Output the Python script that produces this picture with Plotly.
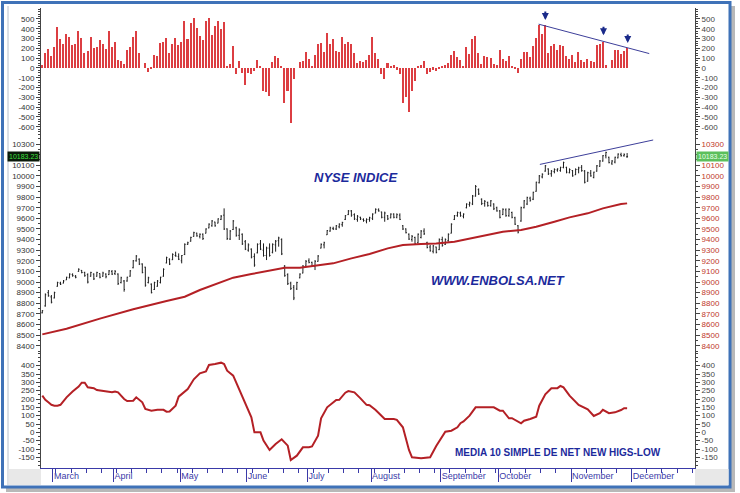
import plotly.graph_objects as go

# ---------------- data (trading days from 25 Feb 2013) ----------------
day_index = list(range(194))

net_new_highs_lows = [
    30, 150, 190, 120, 210, 420, 300, 240, 350, 320, 230, 240, 375, 310, 150, 175, 320, 200, 215, 290,
    245, 195, 375, 215, 260, 80, 75, 40, 180, 210, 315, 380, 155, 0, 50, -40, -10, 130, 120, 250,
    265, 305, 150, 245, 310, 235, 265, 475, 300, 460, 515, 410, 325, 290, 480, 510, 335, 425, 475, 395,
    470, 10, 40, 220, -60, 75, -50, -170, -50, -60, -30, 80, 20, -230, -250, -285, 60, 120, 100, 20,
    -360, -240, -560, -110, 0, 60, 70, 160, 90, 20, 130, 240, 250, 160, 360, 240, 300, 170, 160, 320,
    240, 260, 240, 150, 50, 70, 60, 80, 130, 320, 155, 95, -60, -115, 50, 20, 35, -20, -60, -360,
    -300, -450, -240, -130, 10, 30, 70, -60, -40, -20, -30, -10, 20, 30, 50, 130, 170, 110, 80, 20,
    210, 140, 300, 330, 150, 40, 120, 110, 100, 40, 30, 180, 90, 70, 120, 10, -10, -50, 90, 160,
    160, 110, 220, 310, 440, 350, 440, 150, 220, 240, 180, 230, 220, 120, 90, 130, 60, 160, 80, 60,
    90, 70, 60, 230, 240, 270, 30, 0, 80, 180, 180, 140, 170, 200,
]

nyse_high = [
    8736, 8893, 8925, 8878, 8909, 9003, 9003, 9019, 9050, 9082, 9082, 9066, 9129, 9113, 9097, 9082, 9097, 9082, 9097, 9082,
    9097, 9082, 9113, 9113, 9113, 9082, 9050, 9019, 9050, 9113, 9207, 9254, 9223, 9176, 9144, 9050, 8987, 9003, 9019, 9050,
    9129, 9239, 9223, 9270, 9286, 9270, 9254, 9364, 9380, 9427, 9474, 9465, 9458, 9458, 9506, 9553, 9584, 9568, 9600, 9631,
    9694, 9506, 9490, 9584, 9521, 9506, 9458, 9396, 9364, 9317, 9270, 9364, 9396, 9364, 9333, 9364, 9364, 9396, 9427, 9411,
    9160, 9082, 9003, 8972, 9003, 9082, 9160, 9207, 9223, 9192, 9207, 9254, 9364, 9380, 9490, 9521, 9521, 9537, 9553, 9568,
    9631, 9678, 9678, 9647, 9631, 9615, 9600, 9600, 9615, 9647, 9694, 9694, 9663, 9663, 9631, 9647, 9647, 9647, 9647, 9537,
    9506, 9458, 9443, 9427, 9458, 9490, 9506, 9380, 9349, 9349, 9333, 9411, 9427, 9411, 9458, 9553, 9631, 9663, 9663, 9647,
    9741, 9757, 9820, 9914, 9882, 9788, 9772, 9757, 9772, 9741, 9710, 9678, 9694, 9694, 9694, 9663, 9615, 9537, 9710, 9772,
    9804, 9804, 9851, 9945, 10008, 10024, 10102, 10071, 10055, 10071, 10071, 10086, 10134, 10086, 10071, 10055, 10071, 10086, 10102, 10055,
    10039, 10055, 10039, 10102, 10149, 10196, 10228, 10181, 10149, 10181, 10212, 10218, 10212, 10215,
]
nyse_low = [
    8705, 8768, 8862, 8799, 8846, 8956, 8972, 8987, 9019, 9035, 9050, 9035, 9097, 9082, 9050, 8987, 9050, 9019, 9050, 9035,
    9050, 9035, 9066, 9066, 9066, 8972, 8987, 8909, 9003, 9050, 9129, 9192, 9160, 9082, 8956, 8987, 8893, 8925, 8956, 8987,
    9050, 9176, 9160, 9207, 9239, 9207, 9176, 9254, 9349, 9380, 9427, 9427, 9411, 9396, 9458, 9506, 9521, 9521, 9553, 9584,
    9490, 9396, 9396, 9490, 9427, 9396, 9349, 9301, 9286, 9223, 9144, 9270, 9301, 9239, 9207, 9239, 9270, 9286, 9333, 9254,
    9050, 8972, 8925, 8830, 8925, 9035, 9082, 9144, 9176, 9144, 9113, 9192, 9317, 9317, 9443, 9474, 9490, 9490, 9506, 9521,
    9584, 9631, 9615, 9584, 9568, 9584, 9568, 9553, 9568, 9584, 9647, 9663, 9600, 9568, 9584, 9600, 9600, 9600, 9584, 9490,
    9458, 9396, 9380, 9349, 9364, 9411, 9443, 9317, 9286, 9270, 9270, 9301, 9333, 9349, 9380, 9458, 9584, 9615, 9615, 9600,
    9694, 9710, 9725, 9804, 9820, 9725, 9710, 9710, 9710, 9678, 9663, 9600, 9631, 9615, 9615, 9600, 9537, 9458, 9568, 9694,
    9725, 9757, 9772, 9851, 9929, 9977, 10039, 10008, 9992, 10024, 10039, 10039, 10071, 10024, 10024, 9992, 10008, 10024, 10039, 9929,
    9945, 9992, 9977, 10039, 10086, 10134, 10165, 10118, 10102, 10118, 10165, 10181, 10181, 10170,
]
nyse_open = [
    8710, 8775, 8900, 8860, 8850, 8960, 8990, 8990, 9020, 9040, 9070, 9055, 9100, 9110, 9090, 9070, 9055, 9075, 9055, 9080,
    9055, 9075, 9070, 9100, 9080, 9075, 8995, 9010, 9010, 9055, 9135, 9200, 9215, 9170, 9140, 8995, 8980, 8930, 8960, 8995,
    9055, 9180, 9215, 9210, 9250, 9240, 9200, 9260, 9355, 9385, 9430, 9460, 9430, 9450, 9460, 9510, 9530, 9565, 9555, 9590,
    9630, 9500, 9405, 9495, 9510, 9440, 9450, 9380, 9300, 9310, 9240, 9275, 9360, 9300, 9250, 9320, 9280, 9350, 9390, 9400,
    9150, 9070, 8990, 8950, 8935, 9040, 9085, 9150, 9200, 9185, 9150, 9195, 9320, 9350, 9445, 9480, 9505, 9500, 9520, 9540,
    9590, 9635, 9670, 9635, 9590, 9610, 9590, 9575, 9590, 9600, 9650, 9680, 9660, 9610, 9625, 9605, 9640, 9610, 9630, 9530,
    9500, 9450, 9400, 9420, 9370, 9420, 9480, 9370, 9330, 9290, 9330, 9305, 9400, 9355, 9390, 9460, 9590, 9625, 9650, 9620,
    9700, 9730, 9735, 9810, 9870, 9780, 9740, 9750, 9720, 9735, 9700, 9670, 9635, 9680, 9625, 9655, 9605, 9530, 9575, 9700,
    9735, 9790, 9780, 9855, 9935, 9990, 10045, 10065, 10020, 10040, 10055, 10050, 10080, 10080, 10030, 10050, 10010, 10060, 10080, 10045,
    9950, 10025, 9985, 10045, 10090, 10140, 10190, 10175, 10120, 10130, 10170, 10200, 10190, 10180,
]
nyse_close = [
    8730, 8880, 8870, 8810, 8900, 8995, 8980, 9010, 9045, 9075, 9060, 9045, 9120, 9090, 9060, 9000, 9090, 9030, 9090, 9045,
    9085, 9050, 9105, 9075, 9100, 8985, 9040, 8930, 9045, 9105, 9200, 9245, 9170, 9090, 8970, 9040, 8900, 8995, 9010, 9045,
    9120, 9230, 9170, 9260, 9245, 9215, 9250, 9355, 9370, 9420, 9465, 9435, 9450, 9410, 9500, 9545, 9575, 9530, 9595, 9620,
    9500, 9410, 9480, 9575, 9440, 9490, 9360, 9310, 9350, 9235, 9160, 9355, 9310, 9250, 9320, 9250, 9355, 9385, 9415, 9265,
    9060, 8985, 8940, 8850, 8995, 9075, 9150, 9195, 9185, 9150, 9195, 9245, 9355, 9370, 9485, 9510, 9500, 9530, 9545, 9560,
    9625, 9670, 9630, 9595, 9620, 9595, 9580, 9590, 9605, 9640, 9685, 9670, 9610, 9650, 9595, 9640, 9610, 9635, 9590, 9500,
    9465, 9405, 9430, 9360, 9450, 9480, 9455, 9325, 9295, 9340, 9280, 9400, 9345, 9400, 9450, 9545, 9625, 9655, 9625, 9640,
    9735, 9745, 9810, 9900, 9830, 9740, 9760, 9720, 9765, 9690, 9670, 9610, 9685, 9625, 9685, 9610, 9545, 9470, 9700, 9765,
    9795, 9770, 9845, 9940, 10000, 10015, 10095, 10020, 10045, 10060, 10065, 10080, 10125, 10035, 10060, 10000, 10060, 10075, 10050, 9940,
    10030, 10000, 10035, 10095, 10140, 10190, 10220, 10125, 10140, 10175, 10205, 10190, 10200, 10183.23,
]
last_price = 10183.23

ma_idx = [0, 8, 19, 30, 41, 47, 52, 58, 63, 69, 74, 80, 85, 91, 96, 102, 108, 114, 119, 125,
          130, 136, 141, 147, 152, 158, 163, 169, 174, 180, 185, 191, 193]
ma_val = [8507, 8560, 8655, 8743, 8821, 8862, 8925, 8987, 9041, 9075, 9104, 9135, 9135, 9160, 9176, 9223, 9264, 9317, 9349, 9358,
          9364, 9380, 9411, 9443, 9474, 9490, 9521, 9568, 9609, 9647, 9694, 9735, 9741]

osc_idx = [0, 1, 2, 3, 4, 5, 6, 8, 10, 12, 13, 14, 15, 17, 18, 21, 23, 24, 25, 27,
           28, 30, 31, 33, 34, 36, 38, 40, 41, 42, 44, 45, 48, 50, 52, 54, 55, 57, 59, 60,
           61, 63, 65, 67, 69, 70, 72, 73, 75, 77, 79, 81, 82, 84, 86, 88, 89, 91, 92, 94,
           97, 98, 100, 101, 103, 105, 107, 108, 110, 113, 116, 117, 119, 121, 122, 125, 128, 130, 132, 133,
           135, 137, 138, 139, 141, 143, 145, 148, 149, 151, 152, 154, 155, 158, 159, 161, 163, 164, 166, 168,
           170, 171, 172, 174, 176, 177, 180, 182, 184, 185, 187, 189, 191, 192, 193]
osc_val = [220, 195, 180, 165, 160, 160, 165, 210, 245, 275, 298, 298, 270, 265, 254, 245, 240, 245, 240, 200,
           188, 190, 210, 180, 140, 130, 135, 135, 124, 125, 160, 214, 260, 318, 354, 365, 404, 410, 418, 410,
           370, 340, 258, 180, 90, 0, 0, -50, -106, -70, -42, -80, -166, -140, -90, -90, -85, -20, 84, 150,
           194, 195, 238, 248, 240, 204, 165, 163, 134, 80, 80, 75, 30, -106, -150, -155, -150, -82, -20, 4,
           10, 30, 55, 65, 100, 150, 150, 150, 150, 130, 130, 84, 85, 54, 70, 80, 94, 160, 228, 264,
           265, 278, 270, 220, 182, 165, 138, 98, 115, 135, 115, 120, 134, 145, 145]

trend_top_x = [163.8, 200.3]
trend_top_y = [447, 147]
trend_mid_x = [164.2, 201.6]
trend_mid_y = [10108, 10338]

arrow_idx = [166, 185.2, 193.2]
arrow_tip = [490, 334, 256]

month_names = ["March", "April", "May", "June", "July", "August", "September", "October", "November", "December"]
month_start_idx = [4, 24, 46, 68, 88, 109, 132, 151, 175, 195]

top_ticks = [500, 400, 300, 200, 100, 0, -100, -200, -300, -400, -500, -600]
mid_ticks = [10300, 10100, 10000, 9900, 9800, 9700, 9600, 9500, 9400, 9300, 9200, 9100,
             9000, 8900, 8800, 8700, 8600, 8500, 8400]
bot_ticks = [400, 350, 300, 250, 200, 150, 100, 50, 0, -50, -100, -150]

# ---------------- styling ----------------
FONT = "Liberation Sans, Arial, sans-serif"
BAR_RED = "#dc3e42"
LINE_RED = "#b42025"
OHLC = "#1e1e1e"
TREND = "#3d3f9a"
NAVY = "#1c2a9c"
AX = "#444444"
AXBLUE = "#3a3aa8"

W, H = 740, 493
ML, MR, MT, MB = 41, 45, 8, 25
PW, PH = W - ML - MR, H - MT - MB


def px(xp):
    return (xp - ML) / PW


def py(yp):
    return (H - MB - yp) / PH


XR = [-0.43, 215.4]
Y_TOP = [-684, 612]
Y_MID = [8341, 10385]
Y_BOT = [-214, 482]
D_TOP = [py(135), 1]
D_MID = [py(352), py(135)]
D_BOT = [0, py(352)]

fig = go.Figure()
fig.add_trace(go.Bar(x=day_index, y=net_new_highs_lows, xaxis="x", yaxis="y", width=0.5,
                     marker=dict(color=BAR_RED, line=dict(width=0))))
fig.add_trace(go.Scatter(x=trend_top_x, y=trend_top_y, mode="lines", xaxis="x", yaxis="y4",
                         line=dict(color=TREND, width=1)))
fig.add_trace(go.Ohlc(x=day_index, open=nyse_open, high=nyse_high, low=nyse_low, close=nyse_close,
                      xaxis="x2", yaxis="y2", tickwidth=0.3,
                      increasing=dict(line=dict(color=OHLC, width=1)),
                      decreasing=dict(line=dict(color=OHLC, width=1))))
fig.add_trace(go.Scatter(x=ma_idx, y=ma_val, mode="lines", xaxis="x2", yaxis="y5",
                         line=dict(color=LINE_RED, width=2)))
fig.add_trace(go.Scatter(x=trend_mid_x, y=trend_mid_y, mode="lines", xaxis="x2", yaxis="y5",
                         line=dict(color=TREND, width=1)))
fig.add_trace(go.Scatter(x=osc_idx, y=osc_val, mode="lines", xaxis="x3", yaxis="y3",
                         line=dict(color=LINE_RED, width=2)))
# empty trace so the right-hand scale of the lower panel is drawn
fig.add_trace(go.Scatter(x=[], y=[], mode="lines", xaxis="x3", yaxis="y6", hoverinfo="skip"))


def yax(domain, rng, ticks, minor_dtick, side="left", overlay=None, anchor="x", color="#333333"):
    d = dict(range=rng, tickmode="array", tickvals=ticks, ticktext=[str(t) for t in ticks],
             ticks="outside", ticklen=4, tickcolor=AX, tickwidth=1,
             showline=True, linecolor=AX, linewidth=1, showgrid=False, zeroline=False,
             tickfont=dict(size=8, color=color, family=FONT), side=side, anchor=anchor,
             minor=dict(dtick=minor_dtick, ticks="outside", ticklen=2, tickcolor=AX),
             fixedrange=True)
    if overlay:
        d["overlaying"] = overlay
    else:
        d["domain"] = domain
    return d


xcommon = dict(range=XR, showgrid=False, zeroline=False, showticklabels=False, ticks="",
               showline=False, rangeslider=dict(visible=False))

fig.update_layout(
    width=W, height=H, margin=dict(l=ML, r=MR, t=MT, b=MB),
    paper_bgcolor="white", plot_bgcolor="rgba(0,0,0,0)",
    showlegend=False, bargap=0, font=dict(family=FONT),
    xaxis=dict(xcommon, anchor="y", matches="x3"),
    xaxis2=dict(xcommon, anchor="y2", matches="x3"),
    xaxis3=dict(range=XR, anchor="y3", showgrid=False, zeroline=False,
                rangeslider=dict(visible=False),
                tickmode="array", tickvals=[m - 0.5 for m in month_start_idx], ticktext=month_names,
                ticks="outside", ticklen=13, tickcolor=AXBLUE, tickwidth=1,
                ticklabelposition="outside right", ticklabelstandoff=-1,
                tickfont=dict(size=9, color=AXBLUE, family=FONT),
                showline=True, linecolor=AXBLUE, linewidth=1,
                minor=dict(tick0=4.5, dtick=5, ticks="outside", ticklen=4, tickcolor=AXBLUE)),
    yaxis=yax(D_TOP, Y_TOP, top_ticks, 25, anchor="x"),
    yaxis2=yax(D_MID, Y_MID, mid_ticks, 50, anchor="x2"),
    yaxis3=yax(D_BOT, Y_BOT, bot_ticks, 25, anchor="x3"),
    yaxis4=yax(None, Y_TOP, top_ticks, 25, side="right", overlay="y", anchor="x", color="#444444"),
    yaxis5=yax(None, Y_MID, mid_ticks, 50, side="right", overlay="y2", anchor="x2", color="#c0392b"),
    yaxis6=yax(None, Y_BOT, bot_ticks, 25, side="right", overlay="y3", anchor="x3", color="#444444"),
)

# frame
shapes = [
    dict(type="rect", xref="paper", yref="paper", x0=px(6), x1=px(735), y0=py(492), y1=py(6),
         fillcolor="#b8b8b8", line=dict(width=0), layer="below"),
    dict(type="rect", xref="paper", yref="paper", x0=px(2.5), x1=px(730), y0=py(487), y1=py(2.5),
         fillcolor="white", line=dict(color="#3f72b8", width=3), layer="below"),
    dict(type="line", xref="paper", yref="paper", x0=px(8), x1=px(8), y0=py(485), y1=py(6),
         line=dict(color="#b8c0cc", width=1), layer="below"),
    dict(type="rect", xref="paper", yref="paper", x0=px(8.5), x1=px(41), y0=py(485), y1=py(469),
         fillcolor="#e8e8e8", line=dict(width=0), layer="below"),
    dict(type="rect", xref="paper", yref="paper", x0=px(695), x1=px(728.5), y0=py(485), y1=py(469),
         fillcolor="#e8e8e8", line=dict(width=0), layer="below"),
]

annotations = []
for xi, yt in zip(arrow_idx, arrow_tip):
    annotations.append(dict(x=xi, y=yt, xref="x", yref="y", text="", showarrow=True,
                            ax=0, ay=-10, arrowhead=2, arrowsize=0.7, arrowwidth=2, arrowcolor="#1a2a8a"))
annotations += [
    dict(x=103.4, y=9983, xref="x2", yref="y2", text="<b><i>NYSE INDICE</i></b>", showarrow=False,
         font=dict(size=13, color=NAVY, family=FONT)),
    dict(x=150.4, y=9012, xref="x2", yref="y2", text="<b><i>WWW.ENBOLSA.NET</i></b>", showarrow=False,
         font=dict(size=13, color=NAVY, family=FONT)),
    dict(x=170.1, y=-122, xref="x3", yref="y3", text="<b>MEDIA 10 SIMPLE DE NET NEW HIGS-LOW</b>",
         showarrow=False, font=dict(size=10, color=NAVY, family=FONT)),
    dict(x=0, y=last_price, xref="paper", yref="y2", xanchor="right", text=f"{last_price:.2f}",
         showarrow=False, bgcolor="#0b1a0b", borderpad=1, xshift=-1,
         font=dict(size=7, color="#3ee03e", family=FONT)),
    dict(x=1, y=last_price, xref="paper", yref="y2", xanchor="left", text=f"{last_price:.2f}",
         showarrow=False, bgcolor="#5cbf5c", borderpad=1, xshift=1,
         font=dict(size=7, color="#e8ffe8", family=FONT)),
]
fig.update_layout(shapes=shapes, annotations=annotations)

fig.write_html("out.html", config={"displayModeBar": False},
               post_script="document.body.style.margin='0px';")
